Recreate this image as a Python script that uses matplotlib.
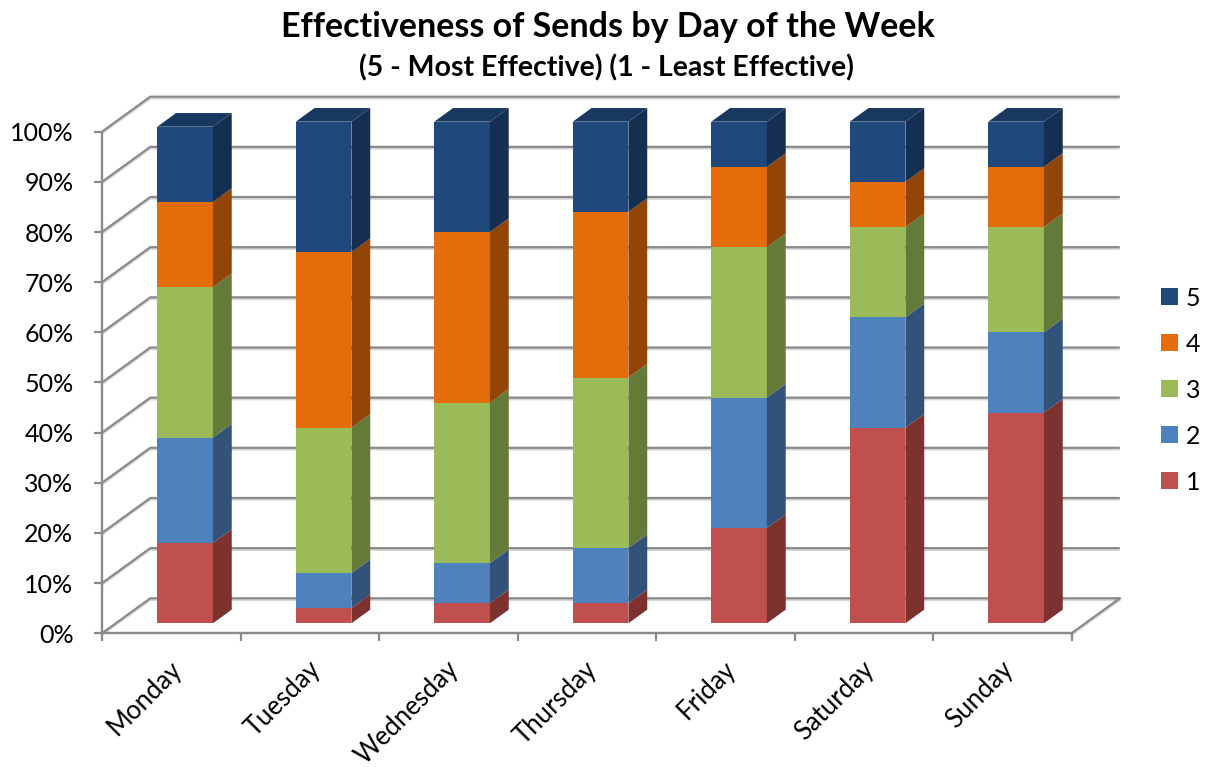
import matplotlib
matplotlib.use("Agg")
import matplotlib.pyplot as plt
import matplotlib.transforms as mtransforms
from matplotlib.patches import Polygon, Patch
import matplotlib.patheffects as pe
import numpy as np

# ---------------- data ----------------
days = ["Monday", "Tuesday", "Wednesday", "Thursday", "Friday", "Saturday", "Sunday"]
series_names = ["1", "2", "3", "4", "5"]
s1 = [16, 3, 4, 4, 19, 39, 42]
s2 = [21, 7, 8, 11, 26, 22, 16]
s3 = [30, 29, 32, 34, 30, 18, 21]
s4 = [17, 35, 34, 33, 16, 9, 12]
s5 = [15, 26, 22, 18, 9, 12, 9]
yticks = [0, 10, 20, 30, 40, 50, 60, 70, 80, 90, 100]
title = "Effectiveness of Sends by Day of the Week"
subtitle = "(5 - Most Effective) (1 - Least Effective)"

# ---------------- style ----------------
front_colors = ["#C0504D", "#4F81BD", "#9BBB59", "#E46C0A", "#1F497D"]
side_colors = ["#7D3230", "#32527A", "#647A39", "#934507", "#142F51"]
top_color = "#19385F"
grid_c = "#8a8a8a"
FONT = "Lato"
plt.rcParams["font.family"] = [FONT, "DejaVu Sans"]

W, H = 1205, 767
fig = plt.figure(figsize=(W / 100, H / 100), dpi=100)

px_cat = 138.5          # pixels per category on the front plane
px_pct = 5.016          # pixels per percent
DX = 48.3 / px_cat      # wall depth offset (categories)
DY = 35.0 / px_pct      # wall depth offset (percent)
x0_px, y0_px = 102, 633.3
ax_w = px_cat * (len(days) + DX)
ax_h = px_pct * (100 + DY)
ax = fig.add_axes([x0_px / W, (H - y0_px) / H, ax_w / W, ax_h / H])
ax.set_xlim(0, len(days) + DX)
ax.set_ylim(0, 100 + DY)
ax.patch.set_alpha(0)

shadow = [pe.SimpleLineShadow(offset=(0, -1.2), shadow_color="#b0b0b0", alpha=0.5), pe.Normal()]

# walls / gridlines
for v in yticks:
    ax.plot([0, DX, len(days) + DX], [v, v + DY, v + DY], color=grid_c, lw=1.6,
            zorder=1, solid_capstyle="butt", clip_on=False, path_effects=shadow)
ax.plot([len(days), len(days) + DX], [0, DY], color=grid_c, lw=1.6, zorder=1,
        clip_on=False, path_effects=shadow)

# spines & ticks
for s in ["top", "right"]:
    ax.spines[s].set_visible(False)
ax.spines["left"].set_bounds(0, 100)
ax.spines["bottom"].set_bounds(0, len(days))
for s in ["left", "bottom"]:
    ax.spines[s].set_color(grid_c)
    ax.spines[s].set_linewidth(1.7)
    ax.spines[s].set_zorder(2)
ax.set_yticks(yticks)
ax.set_yticklabels([f"{v}%" for v in yticks])
ax.set_xticks(np.arange(len(days) + 1))
ax.set_xticklabels([])
ax.tick_params(axis="both", direction="out", length=5.6, width=1.6, color=grid_c)
ax.tick_params(axis="y", pad=15, labelsize=18, labelcolor="black")

# bars
F0 = 0.286   # depth fraction of bar front
FD = 0.39    # bar depth fraction
bw = 0.402
bdx, bdy = FD * DX, FD * DY
centers = np.arange(len(days)) + 0.5 + F0 * DX
series = [s1, s2, s3, s4, s5]
bottom = np.zeros(len(days))
for k, vals in enumerate(series):
    vals = np.array(vals, dtype=float)
    ax.bar(centers, vals, width=bw, bottom=bottom + F0 * DY, color=front_colors[k],
           linewidth=0, zorder=3)
    for i in range(len(days)):
        xr = centers[i] + bw / 2
        yb = bottom[i] + F0 * DY
        yt = yb + vals[i]
        ax.add_patch(Polygon([[xr, yb], [xr + bdx, yb + bdy], [xr + bdx, yt + bdy], [xr, yt]],
                             closed=True, facecolor=side_colors[k], edgecolor="none", zorder=3))
    bottom = bottom + vals

for i in range(len(days)):
    xl = centers[i] - bw / 2
    xr = centers[i] + bw / 2
    yt = bottom[i] + F0 * DY
    ax.add_patch(Polygon([[xl, yt], [xr, yt], [xr + bdx, yt + bdy], [xl + bdx, yt + bdy]],
                         closed=True, facecolor=top_color, edgecolor="none", zorder=3))

# x labels
lab_tr = mtransforms.offset_copy(ax.transData, fig=fig, x=5.0, y=-23.0, units="points")
for i, d in enumerate(days):
    ax.text(i + 0.5, 0, d, transform=lab_tr, rotation=45, ha="right", va="center",
            rotation_mode="anchor", fontsize=18.5, clip_on=False)

# legend
handles = [Patch(facecolor=front_colors[k], edgecolor="none") for k in range(5)][::-1]
labels = series_names[::-1]
fig.legend(handles, labels, loc="center left", bbox_to_anchor=(1161 / W, 1 - 390 / H),
           frameon=False, fontsize=18, handlelength=0.68, handleheight=0.68,
           handletextpad=0.3, labelspacing=0.92, borderpad=0, borderaxespad=0)

# titles
fig.text(608 / W, 1 - 27 / H, title, ha="center", va="center", fontsize=24.5, fontweight="bold")
fig.text(606 / W, 1 - 68 / H, subtitle, ha="center", va="center", fontsize=20.5, fontweight="bold")

fig.savefig("out.png", dpi=100)
